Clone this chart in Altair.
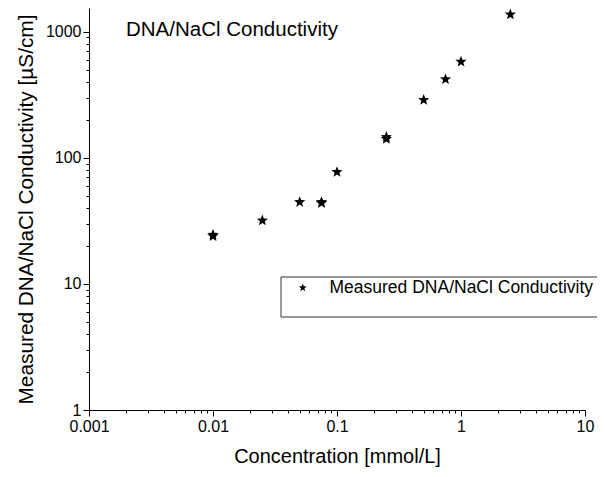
import math
import altair as alt
import pandas as pd

# ---- data ----
conc = [0.01, 0.01, 0.025, 0.05, 0.075, 0.075, 0.1, 0.25, 0.25, 0.5, 0.75, 1.0, 2.5]
cond = [24.5, 23.9, 31.8, 44.5, 44.5, 43.7, 77.0, 146.0, 141.0, 287.0, 419.0, 578.0, 1370.0]
series_name = "Measured DNA/NaCl Conductivity"
series = [series_name] * len(conc)

x_domain = [0.001, 10]
y_domain = [1, 1540]

FONT = "Liberation Sans"


def log_ticks(lo_exp, hi_exp, top):
    vals = []
    for e in range(lo_exp, hi_exp + 1):
        for k in range(1, 10):
            v = float(f"{k}e{e}")
            if v <= top * 1.0000001:
                vals.append(v)
    return vals


x_ticks = log_ticks(-3, 1, x_domain[1])
y_ticks = log_ticks(0, 3, y_domain[1])

# five-pointed star symbol path in [-1, 1]
pts = []
for i in range(10):
    r = 1.0 if i % 2 == 0 else 0.42
    a = math.radians(-90 + 36 * i)
    pts.append(f"{r * math.cos(a):.3f},{r * math.sin(a):.3f}")
STAR = "M" + "L".join(pts) + "Z"

MAJOR = "abs(log(datum.value)/LN10 - round(log(datum.value)/LN10)) < 0.001"

def make_axis(values, title, title_pad, title_size):
    return alt.Axis(
        values=values,
        title=title,
        grid=False,
        labelExpr=f"({MAJOR}) ? '' + datum.value : ''",
        labelOverlap=False,
        labelFlush=False,
        labelBound=False,
        tickSize={"condition": {"test": MAJOR, "value": 6}, "value": 3},
        labelPadding=2,
        titlePadding=title_pad,
        titleFontSize=title_size,
    )

df = pd.DataFrame({"conc": conc, "cond": cond, "series": series})

points = alt.Chart(df).mark_point(
    filled=True, size=140, opacity=1, color="black", strokeWidth=0
).encode(
    x=alt.X("conc:Q", scale=alt.Scale(type="log", domain=x_domain),
            axis=make_axis(x_ticks, "Concentration [mmol/L]", 12, 20)),
    y=alt.Y("cond:Q", scale=alt.Scale(type="log", domain=y_domain),
            axis=make_axis(y_ticks, "Measured DNA/NaCl Conductivity [µS/cm]", 9, 20.8)),
    shape=alt.Shape(
        "series:N",
        scale=alt.Scale(range=[STAR]),
        legend=alt.Legend(
            title=None,
            orient="none",
            legendX=205,
            legendY=271,
            padding=0,
            symbolSize=70,
            symbolFillColor="black",
            symbolStrokeWidth=0,
            labelFont=FONT,
            labelFontSize=17.5,
            labelColor="black",
            labelOffset=18,
            labelLimit=400,
        ),
    ),
)

box = alt.Chart(pd.DataFrame({"k": [0]})).mark_rect(
    fill="white", fillOpacity=0, stroke="#333333", strokeWidth=1
).encode(
    x=alt.value(192), x2=alt.value(560), y=alt.value(269), y2=alt.value(309)
)

label = alt.Chart(pd.DataFrame({"t": ["DNA/NaCl Conductivity"]})).mark_text(
    align="left", baseline="middle", font=FONT, fontSize=20.5, color="black"
).encode(x=alt.value(37), y=alt.value(22), text="t:N")

chart = alt.layer(box, points, label).properties(
    width=496,
    height=402,
    padding={"left": 81, "top": 0, "right": 12, "bottom": 59},
    autosize=alt.AutoSizeParams(type="none"),
).configure_view(
    stroke=None
).configure_axis(
    domainColor="black",
    domainWidth=1,
    tickColor="black",
    tickWidth=1,
    labelColor="black",
    titleColor="black",
    labelFont=FONT,
    titleFont=FONT,
    labelFontSize=16,
    titleFontWeight="normal",
)

chart.save("out.html", embed_options={"renderer": "svg", "actions": False})
